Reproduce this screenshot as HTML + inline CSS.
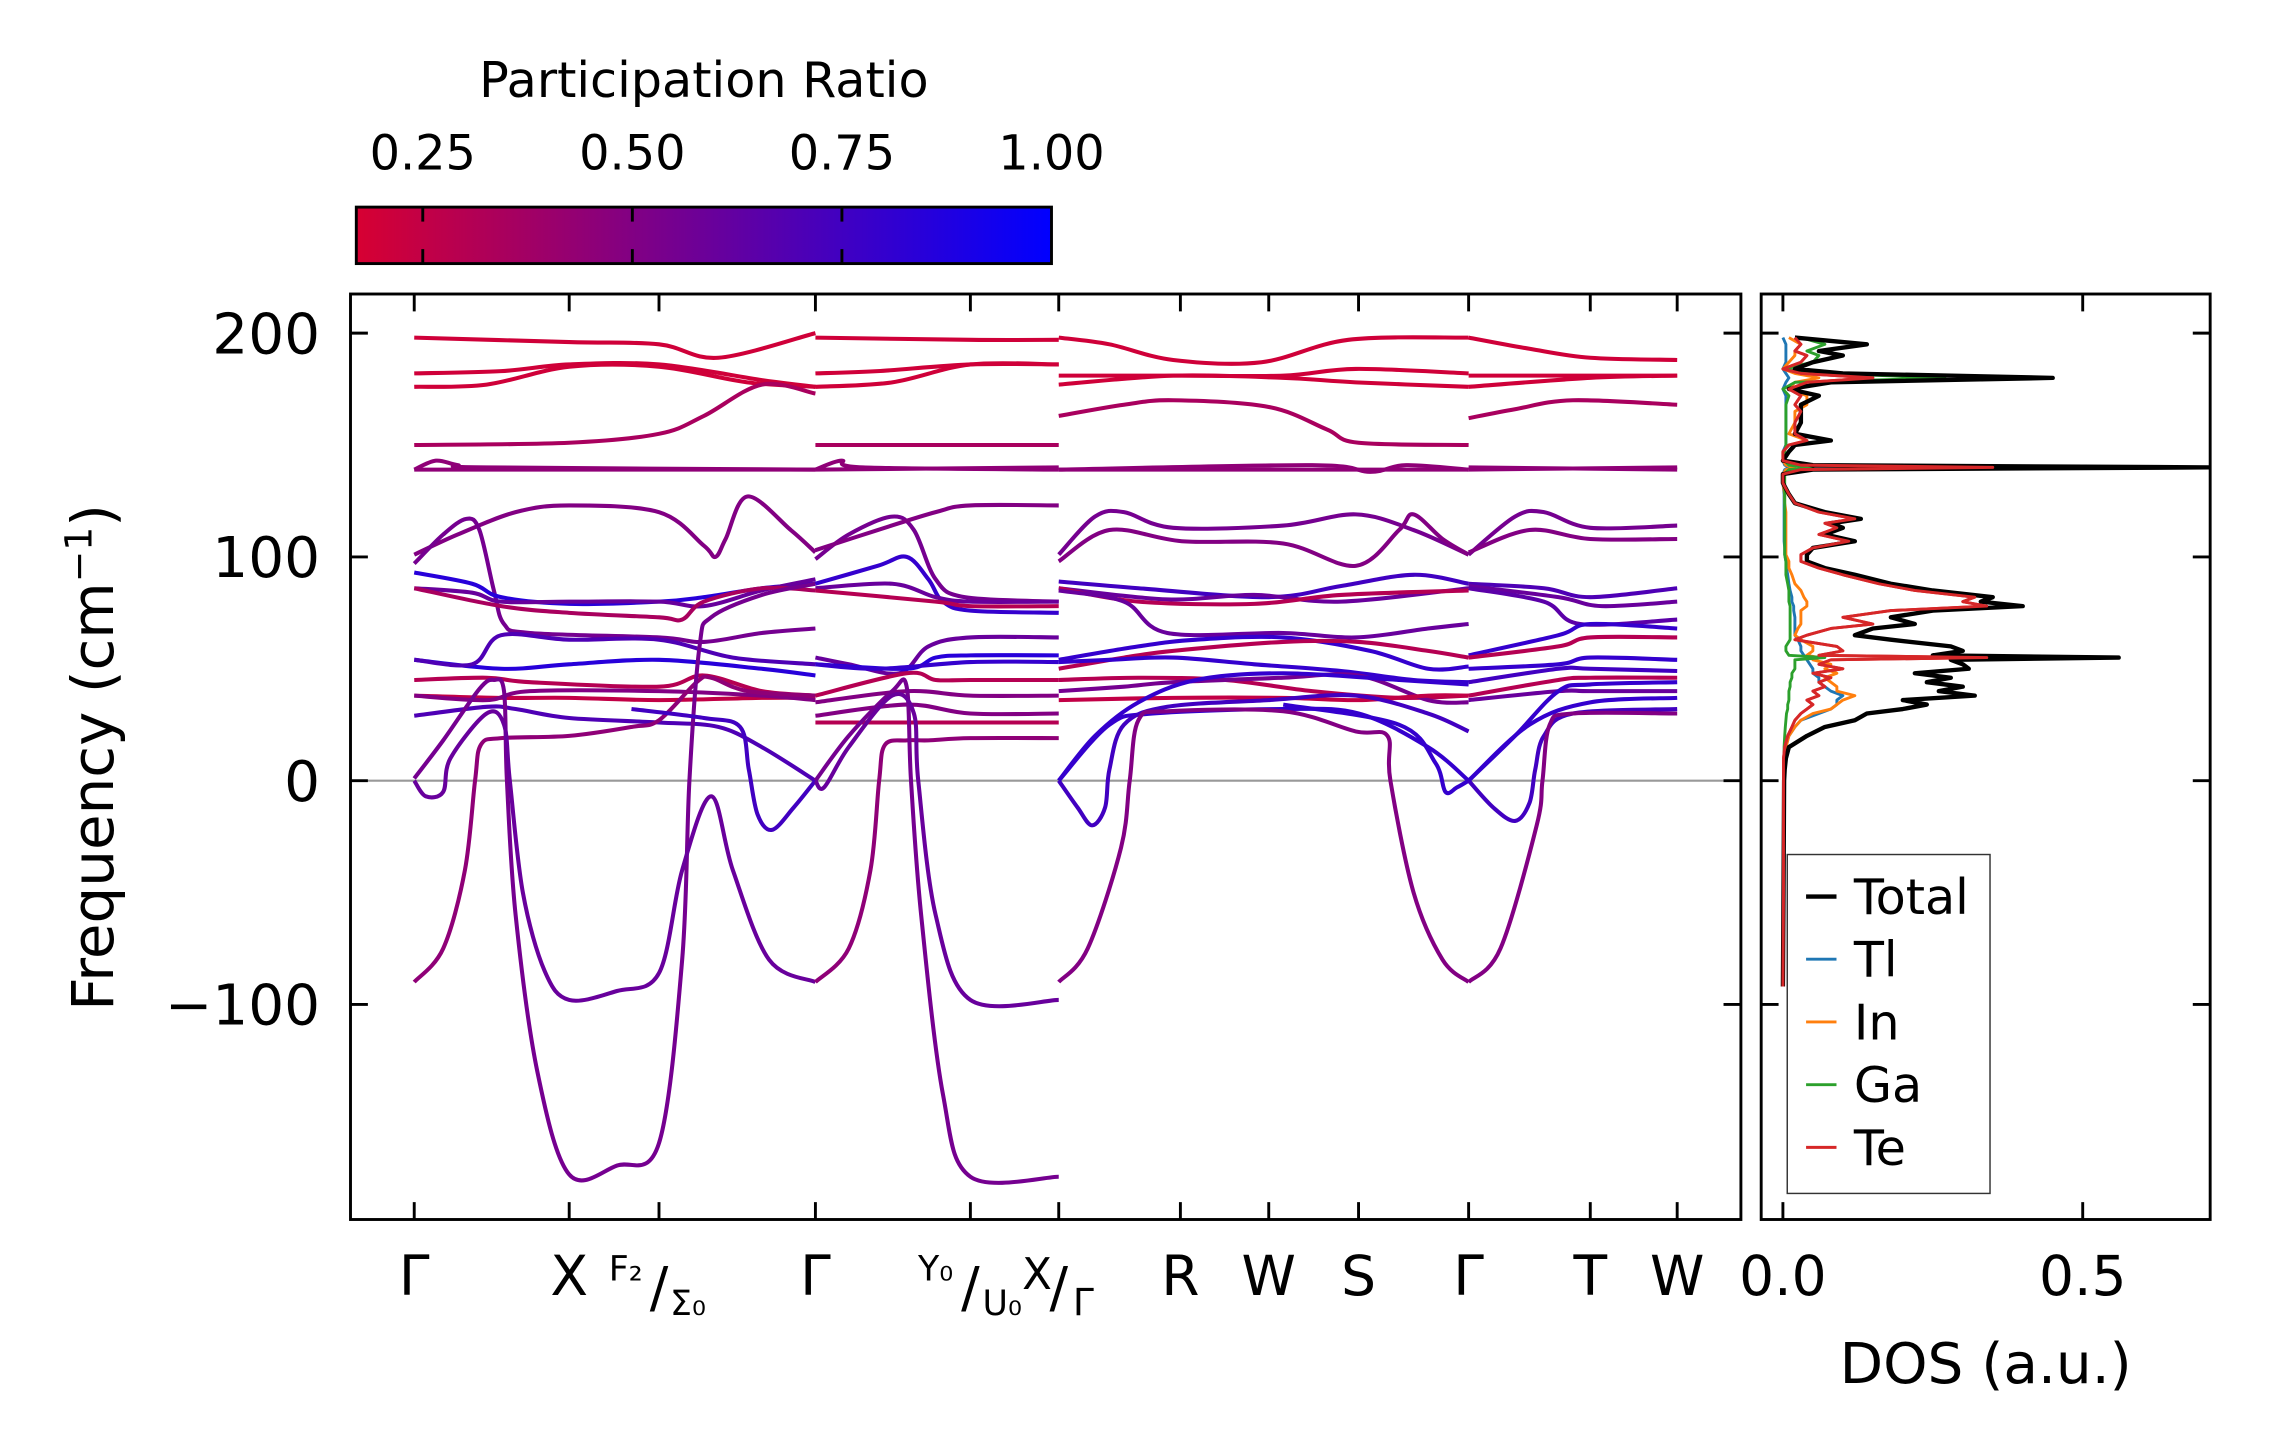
<!DOCTYPE html>
<html><head><meta charset="utf-8"><style>
html,body{margin:0;padding:0;background:#fff;}
svg{display:block;font-family:"DejaVu Sans","Liberation Sans",sans-serif;}
</style></head>
<body>
<svg id="fig" xmlns="http://www.w3.org/2000/svg" width="2271" height="1455" viewBox="0 0 1568 1004.6">
<defs>
<linearGradient id="cbgrad" x1="0" x2="1" y1="0" y2="0">
<stop offset="0" stop-color="rgb(215,0,50)"/>
<stop offset="1" stop-color="rgb(0,0,255)"/>
</linearGradient>
<clipPath id="mainclip"><rect x="242" y="203" width="960" height="639"/></clipPath>
<clipPath id="dosclip"><rect x="1216" y="203" width="310" height="639"/></clipPath>
</defs>
<g id="colorbar">
<text x="486" y="67" font-size="34" text-anchor="middle">Participation Ratio</text>
<rect x="246" y="143" width="480" height="39" fill="url(#cbgrad)" stroke="#000" stroke-width="2"/>
</g>
<g id="main">
<line x1="242" x2="1202" y1="539" y2="539" stroke="#999" stroke-width="1.5"/>
<g id="bands" clip-path="url(#mainclip)"></g>
<rect x="242" y="203" width="960" height="639" fill="none" stroke="#000" stroke-width="2"/>
<g id="mainticks"></g>
<text transform="translate(78,523) rotate(-90)" font-size="40" text-anchor="middle">Frequency (cm<tspan font-size="26" dy="-15">−1</tspan><tspan dy="15">)</tspan></text>
</g>
<g id="dos">
<g id="dosLines" clip-path="url(#dosclip)"></g>
<rect x="1216" y="203" width="310" height="639" fill="none" stroke="#000" stroke-width="2"/>
<g id="dosticks"></g>
<text x="1371" y="955" font-size="39" text-anchor="middle">DOS (a.u.)</text>
<g>
<rect x="1234" y="590" width="140" height="234" fill="#fff" stroke="#333" stroke-width="1"/>
</g>
<g id="legend"></g>
</g>
</svg>
<script>
// ---- data ----
const kTicks = [0,107,169,277,384,445,529,590,652,728,812,872];
const yTicks = [200,100,0,-100];
const yTickLabels = ["200","100","0","\u2212100"];
const cbTicks = [0.25,0.50,0.75,1.00];
const cbTickLabels = ["0.25","0.50","0.75","1.00"];
const dosTicks = [0.0,0.5];
const dosTickLabels = ["0.0","0.5"];

const bandPR = [
 0.2,0.2,0.2,0.35,0.45,0.45,0.5,0.55,0.85,0.6,0.35,0.85,0.7,0.3,0.25,0.5,0.7,0.45,0.55,0.6,0.75,
 0.2,0.2,0.2,0.35,0.45,0.45,0.55,0.5,0.8,0.6,0.3,0.6,0.85,0.8,0.3,0.5,0.5,0.3,0.45,0.55,0.6,
 0.2,0.2,0.2,0.35,0.45,0.45,0.55,0.5,0.75,0.6,0.3,0.6,0.8,0.3,0.8,0.3,0.55,0.25,0.8,0.8,0.75,0.5,0.8,
 0.2,0.2,0.2,0.35,0.45,0.45,0.55,0.5,0.7,0.6,0.65,0.8,0.3,0.8,0.75,0.3,0.6,0.8,0.75,0.5,0.8
];
const bandPts = [
 [[0,198],[107,196],[169,195],[210,189],[277,200]],
 [[0,182],[60,183],[107,186],[169,186],[240,179],[277,176]],
 [[0,176],[50,177],[107,185],[169,185],[230,178],[277,176]],
 [[0,150],[107,151],[169,155],[200,163],[240,177],[277,173]],
 [[0,139],[15,143],[30,141],[50,140],[277,139]],
 [[0,139],[277,139]],
 [[0,101],[30,110],[70,120],[107,123],[169,120],[200,105],[208,100],[215,108],[230,127],[260,112],[277,102]],
 [[0,97],[20,110],[36,117],[45,112],[55,85],[62,70],[80,66],[169,64],[200,62],[240,66],[277,68]],
 [[0,93],[40,88],[60,82],[107,79],[169,80],[200,82],[240,86],[277,88]],
 [[0,86],[40,84],[60,80],[107,80],[169,80],[200,78],[240,85],[277,90]],
 [[0,86],[60,78],[107,75],[169,73],[185,72],[200,80],[240,86],[277,85]],
 [[0,54],[60,50],[107,52],[169,54],[240,50],[277,47]],
 [[0,54],[40,52],[60,65],[107,63],[169,63],[220,55],[277,52]],
 [[0,45],[50,46],[80,44],[169,42],[200,47],[240,40],[277,38]],
 [[0,38],[60,37],[107,37],[169,36],[240,37],[277,37]],
 [[0,38],[50,36],[80,40],[169,40],[240,38],[277,36]],
 [[0,29],[50,33],[70,32],[107,28],[169,26],[210,24],[240,15],[277,0]],
 [[0,-90],[20,-75],[35,-40],[42,0],[46,16],[60,19],[107,20],[150,24],[169,27],[195,44],[205,46],[230,40],[277,38]],
 [[0,1],[20,18],[45,41],[55,45],[62,40],[64,0],[70,-60],[85,-130],[107,-176],[140,-172],[169,-162],[185,-80],[190,0],[197,60],[205,73],[240,83],[277,88]],
 [[0,0],[8,-7],[20,-5],[25,10],[50,30],[62,25],[66,0],[75,-50],[90,-85],[107,-98],[140,-94],[169,-86],[185,-40],[205,-7],[220,-40],[245,-80],[277,-90]],
 [[150,32],[200,28],[225,24],[231,5],[237,-15],[247,-22],[262,-12],[277,0]],
 [[277,198],[384,197],[445,197]],
 [[277,182],[320,183],[384,186],[445,186]],
 [[277,176],[330,178],[384,186],[445,186]],
 [[277,150],[445,150]],
 [[277,139],[295,143],[310,140],[445,139]],
 [[277,139],[445,140]],
 [[277,99],[300,110],[330,118],[345,112],[360,90],[380,82],[445,80]],
 [[277,103],[320,112],[360,120],[384,123],[445,123]],
 [[277,88],[320,96],[340,100],[355,90],[365,80],[384,76],[445,75]],
 [[277,86],[330,88],[360,82],[384,80],[445,80]],
 [[277,85],[360,80],[384,78],[445,78]],
 [[277,55],[300,52],[335,48],[355,60],[384,64],[445,64]],
 [[277,52],[340,50],[360,55],[384,56],[445,56]],
 [[277,52],[320,50],[384,53],[445,53]],
 [[277,38],[340,48],[360,45],[384,45],[445,45]],
 [[277,35],[340,40],[384,38],[445,38]],
 [[277,29],[340,34],[384,30],[445,30]],
 [[277,26],[384,26],[445,26]],
 [[277,-90],[300,-75],[315,-40],[321,0],[325,16],[340,18],[355,18],[384,19],[445,19]],
 [[277,0],[300,20],[330,40],[340,42],[343,0],[350,-60],[365,-140],[384,-177],[445,-177]],
 [[277,0],[283,-3],[300,15],[330,38],[345,30],[348,0],[360,-60],[384,-98],[445,-98]],
 [[445,198],[480,195],[524,188],[585,187],[645,197],[728,198]],
 [[445,181],[524,181],[600,181],[650,184],[728,182]],
 [[445,177],[524,181],[600,180],[650,178],[728,176]],
 [[445,163],[490,168],[524,170],[590,167],[630,157],[652,151],[728,150]],
 [[445,139],[728,139]],
 [[445,139],[620,141],[660,138],[685,141],[728,139]],
 [[445,101],[470,118],[490,120],[524,113],[600,114],[650,119],[690,112],[728,101]],
 [[445,98],[480,112],[530,107],[600,106],[650,96],[680,112],[690,119],[710,108],[728,101]],
 [[445,89],[500,86],[590,82],[640,87],[690,92],[728,88]],
 [[445,86],[520,81],[580,83],[640,80],[728,86]],
 [[445,86],[500,80],[580,79],[640,83],[728,85]],
 [[445,85],[490,80],[520,66],[600,66],[650,64],[700,68],[728,70]],
 [[445,54],[500,60],[540,63],[600,64],[660,58],[700,50],[728,51]],
 [[445,50],[490,55],[524,58],[600,62],[652,62],[700,58],[728,55]],
 [[445,53],[480,54],[524,55],[580,52],[640,49],[690,45],[728,44]],
 [[445,45],[500,46],[560,45],[620,40],[680,37],[728,38]],
 [[445,40],[490,42],[524,44],[600,46],[652,47],[700,36],[728,35]],
 [[445,36],[524,37],[600,37],[652,36],[700,38],[728,38]],
 [[445,0],[480,25],[510,30],[600,32],[652,30],[700,15],[728,0]],
 [[600,34],[680,25],[705,8],[712,-5],[720,-3],[728,0]],
 [[445,0],[458,-12],[468,-20],[477,-12],[480,5],[490,25],[520,33],[590,36],[650,38],[700,30],[728,22]],
 [[445,-90],[465,-75],[488,-30],[494,0],[500,27],[520,31],[600,31],[650,22],[672,20],[674,0],[690,-50],[710,-80],[728,-90]],
 [[445,0],[470,20],[500,35],[540,45],[600,48],[680,45],[728,43]],
 [[728,198],[770,193],[812,189],[872,188]],
 [[728,181],[812,181],[872,181]],
 [[728,176],[812,180],[872,181]],
 [[728,162],[760,166],[800,170],[872,168]],
 [[728,139],[872,140]],
 [[728,140],[872,139]],
 [[728,101],[760,118],[780,120],[812,113],[872,114]],
 [[728,102],[770,112],[812,108],[872,108]],
 [[728,88],[780,86],[812,82],[872,86]],
 [[728,87],[790,82],[820,78],[872,80]],
 [[728,86],[780,80],[805,70],[872,72]],
 [[728,56],[790,65],[812,70],[872,68]],
 [[728,55],[790,60],[812,64],[872,64]],
 [[728,50],[790,52],[812,55],[872,54]],
 [[728,44],[790,50],[812,50],[872,49]],
 [[728,38],[790,45],[812,46],[872,46]],
 [[728,36],[790,40],[812,40],[872,40]],
 [[728,0],[760,20],[790,40],[812,43],[872,44]],
 [[728,0],[745,-12],[760,-18],[770,-10],[774,5],[780,20],[800,30],[872,32]],
 [[728,-90],[750,-75],[775,-20],[779,0],[784,25],[800,30],[872,30]],
 [[728,0],[770,25],[812,35],[872,37]]
];

const dosFreq = [198,195,192,190,187,184,182,180,178,175,172,168,165,160,155,152,150,147,143,141,140,139,137,133,128,124,120,117,115,113,110,107,104,101,98,95,92,88,85,82,80,78,76,73,70,68,65,63,60,58,56,55,54,52,50,48,46,44,42,40,38,36,34,32,30,27,24,20,15,10,5,0,-50,-92];
const dosTotal = [.02,.14,.06,.10,.05,.02,.10,.45,.08,.01,.06,.03,.03,.03,.02,.08,.02,.01,.0,.05,.71,.05,.0,.0,.01,.02,.07,.13,.08,.10,.07,.12,.05,.04,.04,.07,.12,.18,.25,.35,.33,.40,.25,.18,.22,.15,.12,.18,.28,.30,.25,.56,.28,.30,.31,.22,.28,.24,.30,.26,.32,.20,.24,.20,.14,.12,.07,.04,.01,.005,.003,.002,.001,.0];
const dosTe = [.02,.03,.02,.04,.03,.0,.03,.15,.04,.01,.03,.02,.03,.02,.02,.04,.01,.0,.0,.03,.35,.03,.0,.0,.01,.02,.06,.12,.07,.09,.06,.11,.05,.03,.03,.06,.10,.16,.22,.32,.30,.34,.18,.10,.15,.08,.04,.02,.09,.10,.06,.34,.08,.06,.10,.05,.08,.06,.07,.05,.06,.04,.05,.04,.03,.02,.015,.008,.003,.001,.001,.001,.001,.0];
const dosGa = [.03,.07,.04,.06,.05,.0,.07,.27,.02,.0,.01,.005,.005,.005,.005,.005,.005,.003,.003,.01,.05,.01,.003,.003,.003,.003,.003,.003,.003,.003,.003,.003,.003,.003,.005,.005,.005,.008,.01,.01,.01,.012,.012,.012,.012,.012,.012,.012,.005,.005,.01,.07,.02,.02,.02,.015,.015,.012,.012,.01,.01,.01,.008,.008,.006,.005,.004,.003,.002,.002,.001,.001,.001,.0];
const dosIn = [.01,.03,.02,.02,.01,.0,.02,.06,.02,.01,.04,.04,.02,.02,.01,.04,.01,.0,.0,.005,.02,.005,.0,.0,.003,.003,.005,.005,.005,.005,.005,.005,.005,.005,.01,.01,.015,.02,.03,.035,.04,.04,.03,.03,.03,.025,.02,.03,.05,.05,.04,.06,.05,.08,.07,.09,.07,.08,.09,.09,.12,.10,.09,.08,.05,.03,.02,.01,.005,.002,.001,.001,.001,.0];
const dosTl = [.0,.005,.005,.005,.005,.0,.005,.01,.005,.0,.005,.005,.005,.005,.005,.005,.005,.0,.0,.003,.01,.003,.0,.0,.002,.002,.002,.002,.002,.002,.002,.002,.003,.003,.005,.006,.008,.01,.012,.015,.015,.018,.018,.02,.02,.02,.02,.025,.03,.03,.035,.04,.04,.045,.05,.05,.06,.06,.07,.08,.10,.09,.09,.08,.06,.03,.02,.01,.005,.002,.001,.001,.001,.0];
const dosSeries = ["Tl","In","Ga","Te","Total"];
const dosColors = {Total:"#000000",Tl:"#1f77b4",In:"#ff7f0e",Ga:"#2ca02c",Te:"#d62728"};
const legendOrder = ["Total","Tl","In","Ga","Te"];

const NS="http://www.w3.org/2000/svg";
const xK = k => 286 + k;
const yF = f => 539 - f*1.545;
const xDos = v => 1231 + v*414;
const xCb = v => 246 + (v-0.1707)/(1-0.1707)*480;
function prColor(p){
  let t=(p-0.1707)/(1-0.1707); t=Math.max(0,Math.min(1,t));
  const r=Math.round(215*(1-t)), g=0, b=Math.round(50+(205)*t);
  return `rgb(${r},${g},${b})`;
}
function mk(tag,attrs,parent){const e=document.createElementNS(NS,tag);for(const a in attrs)e.setAttribute(a,attrs[a]);parent.appendChild(e);return e;}
function smoothPath(p){
  if(p.length<2)return "";
  let d=`M${p[0][0].toFixed(2)},${p[0][1].toFixed(2)}`;
  for(let i=0;i<p.length-1;i++){
    const p0=p[i-1]||p[i],p1=p[i],p2=p[i+1],p3=p[i+2]||p[i+1];
    const c1x=p1[0]+(p2[0]-p0[0])/6, c1y=p1[1]+(p2[1]-p0[1])/6;
    const c2x=p2[0]-(p3[0]-p1[0])/6, c2y=p2[1]-(p3[1]-p1[1])/6;
    d+=` C${c1x.toFixed(2)},${c1y.toFixed(2)} ${c2x.toFixed(2)},${c2y.toFixed(2)} ${p2[0].toFixed(2)},${p2[1].toFixed(2)}`;
  }
  return d;
}

const gB=document.getElementById('bands');
bandPts.forEach((pts,i)=>{
  const px=pts.map(q=>[xK(q[0]),yF(q[1])]);
  const el=mk('path',{d:smoothPath(px),fill:'none',stroke:prColor(bandPR[i]),'stroke-width':2.8,'stroke-linejoin':'round'},gB);
  
  
});

const gT=document.getElementById('mainticks');
kTicks.forEach((k,i)=>{
  const x=xK(k);
  const t1=mk('line',{x1:x,x2:x,y1:203,y2:215,stroke:'#000','stroke-width':2},gT);
  
  
  const t2=mk('line',{x1:x,x2:x,y1:842,y2:830,stroke:'#000','stroke-width':2},gT);
  
  
});
yTicks.forEach((f,i)=>{
  const y=yF(f);
  const a=mk('line',{x1:242,x2:254,y1:y,y2:y,stroke:'#000','stroke-width':2},gT);
  
  
  const b=mk('line',{x1:1190,x2:1202,y1:y,y2:y,stroke:'#000','stroke-width':2},gT);
  
  
  const t=mk('text',{x:221,y:y+14,'font-size':39,'text-anchor':'end'},gT);
  t.textContent=yTickLabels[i];
  
  
});
function lab(x,y,size,txt,name){
  const t=mk('text',{x:x,y:y,'font-size':size,'text-anchor':'middle'},gT);
  t.textContent=txt;
  
  
  return t;
}
const LY=894;
lab(xK(kTicks[0]),LY,38,"Γ","k-label-gamma");
lab(xK(kTicks[1]),LY,38,"X","k-label-x");
lab(xK(kTicks[2])-23,LY-10,24,"F₂","k-label-f2");
lab(xK(kTicks[2]),LY+8,38,"/","k-label-slash");
lab(xK(kTicks[2])+20,LY+14,24,"Σ₀","k-label-sigma0");
lab(xK(kTicks[3]),LY,38,"Γ","k-label-gamma");
lab(xK(kTicks[4])-24,LY-10,24,"Y₀","k-label-y0");
lab(xK(kTicks[4]),LY+8,38,"/","k-label-slash");
lab(xK(kTicks[4])+22,LY+14,24,"U₀","k-label-u0");
lab(xK(kTicks[5])-15,LY-4,30,"X","k-label-x");
lab(xK(kTicks[5]),LY+8,38,"/","k-label-slash");
lab(xK(kTicks[5])+17,LY+14,26,"Γ","k-label-gamma");
lab(xK(kTicks[6]),LY,38,"R","k-label-r");
lab(xK(kTicks[7]),LY,38,"W","k-label-w");
lab(xK(kTicks[8]),LY,38,"S","k-label-s");
lab(xK(kTicks[9]),LY,38,"Γ","k-label-gamma");
lab(xK(kTicks[10]),LY,38,"T","k-label-t");
lab(xK(kTicks[11]),LY,38,"W","k-label-w");

const cb=document.getElementById('colorbar');
cbTicks.forEach((v,i)=>{
  const x=xCb(v);
  if(v<0.999){
    const a=mk('line',{x1:x,x2:x,y1:143,y2:153,stroke:'#000','stroke-width':2},cb);
    
    
    const b=mk('line',{x1:x,x2:x,y1:172,y2:182,stroke:'#000','stroke-width':2},cb);
    
    
  }
  const t=mk('text',{x:x,y:117,'font-size':33,'text-anchor':'middle'},cb);
  t.textContent=cbTickLabels[i];
  
  
});

const gD=document.getElementById('dosLines');
const dosData={Total:dosTotal,Tl:dosTl,In:dosIn,Ga:dosGa,Te:dosTe};
dosSeries.forEach(s=>{
  const vals=dosData[s];
  const pts=dosFreq.map((f,i)=>`${xDos(vals[i]).toFixed(2)},${yF(f).toFixed(2)}`).join(' ');
  const el=mk('polyline',{points:pts,fill:'none',stroke:dosColors[s],'stroke-width':s==='Total'?3:2,'stroke-linejoin':'round'},gD);
  
  
});
{
  const pts=dosFreq.map((f,i)=>`${xDos(dosTe[i]).toFixed(2)},${yF(f).toFixed(2)}`).join(' ');
  const el=mk('polyline',{points:pts,fill:'none',stroke:dosColors.Te,'stroke-width':2,'stroke-linejoin':'round'},gD);
  
  
}
const gDT=document.getElementById('dosticks');
dosTicks.forEach((v,i)=>{
  const x=xDos(v);
  const a=mk('line',{x1:x,x2:x,y1:203,y2:215,stroke:'#000','stroke-width':2},gDT);
  
  
  const b=mk('line',{x1:x,x2:x,y1:842,y2:830,stroke:'#000','stroke-width':2},gDT);
  
  
  const t=mk('text',{x:x,y:894,'font-size':38,'text-anchor':'middle'},gDT);
  t.textContent=dosTickLabels[i];
  
  
});
yTicks.forEach(f=>{
  const y=yF(f);
  const a=mk('line',{x1:1216,x2:1228,y1:y,y2:y,stroke:'#000','stroke-width':2},gDT);
  
  
  const b=mk('line',{x1:1514,x2:1526,y1:y,y2:y,stroke:'#000','stroke-width':2},gDT);
  
  
});
const gL=document.getElementById('legend');
legendOrder.forEach((s,i)=>{
  const y=619+i*43.3;
  const l=mk('line',{x1:1247,x2:1268,y1:y,y2:y,stroke:dosColors[s],'stroke-width':s==='Total'?3:2},gL);
  
  
  const t=mk('text',{x:1280,y:y+12,'font-size':34},gL);
  t.textContent=s;
  
  
});
</script>
</body></html>
